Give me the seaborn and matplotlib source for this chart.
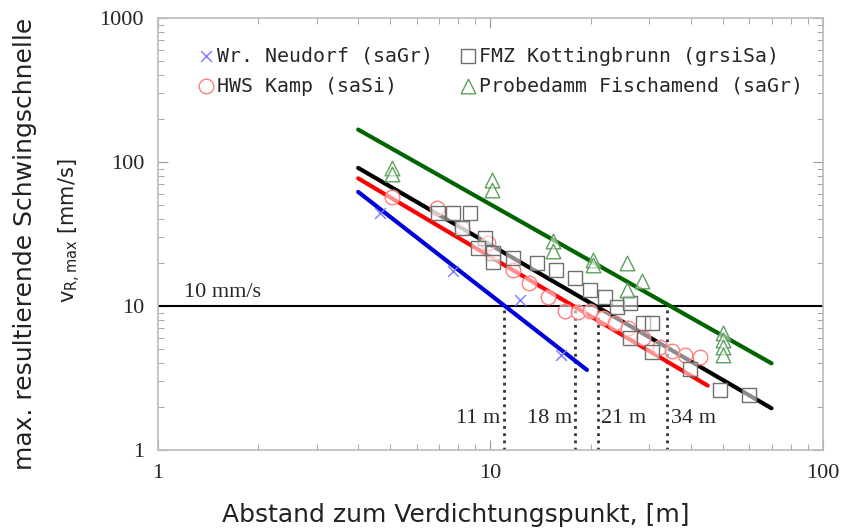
import matplotlib
matplotlib.use("Agg")
import matplotlib.pyplot as plt
import seaborn as sns
from matplotlib.ticker import NullFormatter

neudorf_x = [4.65, 7.7, 12.3, 16.3]
neudorf_v = [44, 17.5, 11.0, 4.6]

kamp_x = [5.06, 6.9, 8.2, 9.8, 11.7, 13.1, 14.9, 16.8, 18.3, 19.9,
          21.8, 23.7, 25.9, 28.8, 32.3, 35.1, 38.5, 42.7]
kamp_v = [57, 48, 35, 27.4, 17.8, 14.4, 11.5, 9.2, 9.1, 9.2,
          8.3, 7.6, 7.0, 6.0, 5.2, 4.9, 4.6, 4.4]

kotting_x = [6.95, 7.7, 8.7, 8.2, 9.6, 9.2, 10.2, 10.2, 11.7, 13.8, 15.7, 17.9,
             19.9, 22.1, 24.0, 26.3, 28.8, 30.6, 26.3, 30.6, 39.8, 49, 60]
kotting_v = [44, 44, 44, 34.8, 29.7, 25.3, 23.3, 20.2, 21.5, 19.9, 17.8, 15.6,
             12.9, 11.5, 9.8, 10.5, 7.6, 7.6, 6.0, 4.8, 3.65, 2.6, 2.4]

fischa_x = [5.06, 5.06, 10.1, 10.1, 15.4, 15.4, 20.3, 20.3, 25.7, 28.5, 25.7,
            50, 50, 50, 50]
fischa_v = [91, 82.5, 75, 64, 28.3, 24.1, 20.9, 19.3, 19.9, 14.9, 12.9,
            6.5, 5.8, 5.2, 4.6]

# regression lines (start / end points)
fit_x = {"neudorf": [4, 19.5], "kamp": [4, 45], "kotting": [4, 70], "fischa": [4, 70]}
fit_v = {"neudorf": [62, 3.6], "kamp": [77, 2.8], "kotting": [91, 1.95], "fischa": [168, 4.0]}

# distances where the fits reach 10 mm/s
limit_v = 10
cross_x = [11, 18, 21, 34]
cross_labels = ["11 m", "18 m", "21 m", "34 m"]

x_ticks = [1, 10, 100]
y_ticks = [1, 10, 100, 1000]

sns.set_style("ticks")
plt.rcParams["font.family"] = ["DejaVu Sans"]
serif = ["Liberation Serif", "DejaVu Serif"]

fig = plt.figure(figsize=(8.43, 5.30), dpi=100)
ax = fig.add_axes([0.1874, 0.1509, 0.7889, 0.8151])
ax.set_xscale("log")
ax.set_yscale("log")

line_col = {"neudorf": "#0000dd", "kamp": "#ff0000", "kotting": "#000000", "fischa": "#006400"}
for key in ["fischa", "kotting", "kamp", "neudorf"]:
    sns.lineplot(x=fit_x[key], y=fit_v[key], color=line_col[key], lw=3, ax=ax,
                 sort=False, legend=False, zorder=2)

face = (1, 1, 1, 0.55)
sns.scatterplot(x=neudorf_x, y=neudorf_v, marker="x", s=60, color="#7b7bff",
                linewidth=1.0, ax=ax, label="Wr. Neudorf (saGr)", zorder=3)
sns.scatterplot(x=kamp_x, y=kamp_v, marker="o", s=110, facecolor=face,
                edgecolor="#ff7f7f", linewidth=1.0, ax=ax, label="HWS Kamp (saSi)", zorder=3)
sns.scatterplot(x=kotting_x, y=kotting_v, marker="s", s=110, facecolor=face,
                edgecolor="#6f6f6f", linewidth=1.0, ax=ax,
                label="FMZ Kottingbrunn (grsiSa)", zorder=3)
sns.scatterplot(x=fischa_x, y=fischa_v, marker="^", s=110, facecolor=face,
                edgecolor="#5f9f5f", linewidth=1.0, ax=ax,
                label="Probedamm Fischamend (saGr)", zorder=3)

# 10 mm/s limit and the crossing distances
ax.axhline(limit_v, color="black", lw=1.5, zorder=1)
ax.text(1.2, 10.6, "10 mm/s", family=serif, fontsize=16, ha="left", va="bottom")
for xc, lab in zip(cross_x, cross_labels):
    ax.plot([xc, xc], [1, limit_v], color="#333333", lw=2, ls=(0, (1, 1.6)), zorder=1)
    if xc < 20:
        ax.text(xc * 0.975, 1.42, lab, family=serif, fontsize=16, ha="right", va="bottom")
    else:
        ax.text(xc * 1.025, 1.42, lab, family=serif, fontsize=16, ha="left", va="bottom")

ax.set_xlim(1, 100)
ax.set_ylim(1, 1000)
ax.set_xticks(x_ticks, labels=[str(t) for t in x_ticks])
ax.set_yticks(y_ticks, labels=[str(t) for t in y_ticks])
ax.xaxis.set_minor_formatter(NullFormatter())
ax.yaxis.set_minor_formatter(NullFormatter())
for lab in ax.get_xticklabels() + ax.get_yticklabels():
    lab.set_family(serif)
    lab.set_fontsize(16)
ax.tick_params(which="both", direction="in", top=True, right=True, color="#999999")
ax.tick_params(which="major", length=7, pad=10)
ax.tick_params(which="minor", length=4)
for sp in ax.spines.values():
    sp.set_color("#bbbbbb")
    sp.set_linewidth(1.2)

h, l = ax.get_legend_handles_labels()
ax.legend(h, l, ncol=2, loc="upper left", bbox_to_anchor=(0.03, 0.975),
          frameon=False, handletextpad=0.05, handlelength=1.0,
          columnspacing=1.3, labelspacing=0.55,
          prop={"family": "DejaVu Sans Mono", "size": 14.3})

# axis titles
fig.text(0.541, 0.028, "Abstand zum Verdichtungspunkt, [m]",
         ha="center", va="center", fontsize=18, color="#222222")
fig.text(0.03, 0.54, "max. resultierende Schwingschnelle", rotation=90,
         ha="center", va="center", fontsize=18, color="#222222")
fig.text(0.083, 0.565, r"$\mathregular{v_{R,max}}$ [mm/s]", rotation=90,
         ha="center", va="center", fontsize=15, color="#222222")

fig.savefig("out.png", dpi=100)
